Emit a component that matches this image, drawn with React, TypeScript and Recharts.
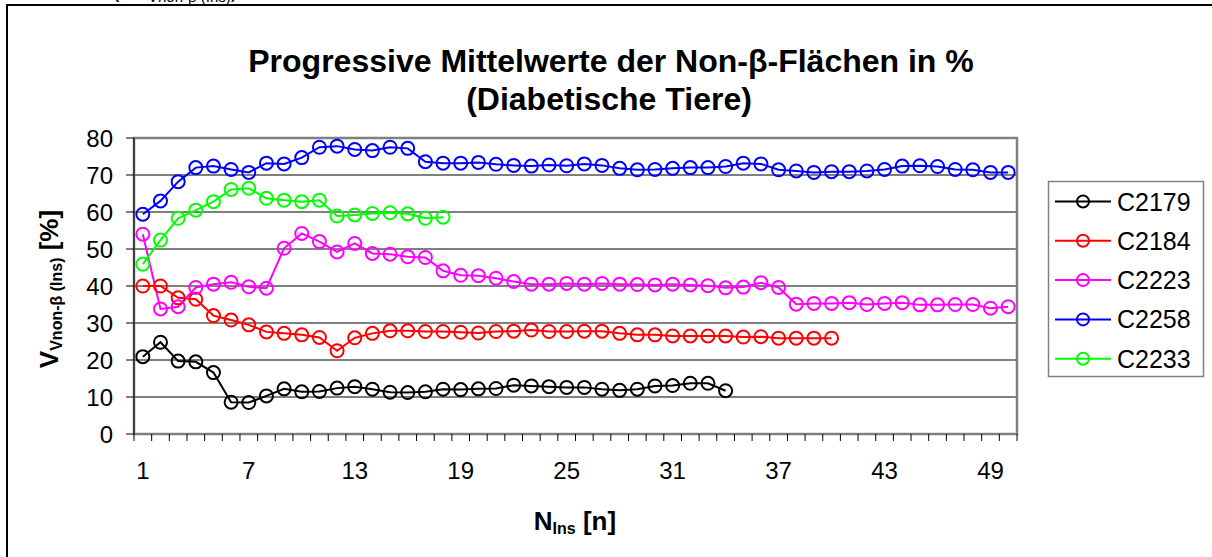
import React from 'react';
import { LineChart, Line, XAxis, YAxis, CartesianGrid, ReferenceArea } from 'recharts';

const FONT = '"Liberation Sans", Arial, sans-serif';

const nValues = [1, 2, 3, 4, 5, 6, 7, 8, 9, 10, 11, 12, 13, 14, 15, 16, 17, 18, 19, 20, 21, 22, 23, 24, 25, 26, 27, 28, 29, 30, 31, 32, 33, 34, 35, 36, 37, 38, 39, 40, 41, 42, 43, 44, 45, 46, 47, 48, 49, 50];
const xTickLabels = [1, 7, 13, 19, 25, 31, 37, 43, 49];
const yTicks = [0, 10, 20, 30, 40, 50, 60, 70, 80];

const c2179 = [20.9, 24.8, 19.7, 19.5, 16.6, 8.6, 8.5, 10.3, 12.2, 11.4, 11.5, 12.4, 12.8, 12.1, 11.3, 11.2, 11.4, 12.1, 12.0, 12.2, 12.3, 13.2, 13.0, 12.8, 12.6, 12.6, 12.1, 11.8, 12.1, 13.0, 13.1, 13.7, 13.7, 11.7];
const c2184 = [40.0, 40.0, 36.8, 36.4, 32.0, 30.8, 29.5, 27.6, 27.2, 26.8, 26.1, 22.5, 26.0, 27.2, 27.9, 27.9, 27.7, 27.7, 27.5, 27.3, 27.7, 27.8, 28.1, 27.7, 27.7, 27.8, 27.8, 27.2, 26.8, 26.8, 26.5, 26.5, 26.5, 26.5, 26.2, 26.3, 25.9, 25.9, 25.9, 25.9];
const c2223 = [54.0, 33.8, 34.4, 39.6, 40.5, 41.0, 39.8, 39.4, 50.2, 54.2, 52.0, 49.2, 51.5, 48.8, 48.6, 47.9, 47.7, 44.1, 42.9, 42.8, 42.1, 41.2, 40.5, 40.5, 40.7, 40.5, 40.7, 40.5, 40.4, 40.3, 40.5, 40.3, 40.1, 39.5, 39.7, 40.9, 39.6, 35.1, 35.3, 35.3, 35.5, 35.0, 35.3, 35.5, 34.9, 34.9, 35.0, 35.0, 34.0, 34.4];
const c2258 = [59.4, 63.0, 68.2, 72.0, 72.4, 71.5, 70.7, 73.2, 73.0, 74.7, 77.5, 77.8, 76.9, 76.6, 77.5, 77.2, 73.6, 73.2, 73.2, 73.4, 72.9, 72.6, 72.4, 72.7, 72.5, 73.0, 72.6, 71.8, 71.4, 71.5, 71.8, 72.0, 72.0, 72.3, 73.2, 73.0, 71.4, 71.1, 70.7, 70.9, 70.9, 71.1, 71.5, 72.4, 72.5, 72.3, 71.5, 71.4, 70.7, 70.7];
const c2233 = [45.9, 52.4, 58.3, 60.5, 62.8, 66.1, 66.4, 63.7, 63.2, 62.8, 63.2, 58.9, 59.2, 59.6, 59.8, 59.5, 58.3, 58.6];

const seriesNames = ['C2179', 'C2184', 'C2223', 'C2258', 'C2233'];
const seriesValues = [c2179, c2184, c2223, c2258, c2233];
const seriesColors = ['#000000', '#FF0000', '#FF00FF', '#0000FF', '#00FF00'];

const xTickBounds = nValues.map((n) => n - 0.5).concat([nValues[nValues.length - 1] + 0.5]);

const data = nValues.map((n, i) => {
  const row: Record<string, number | undefined> = { n };
  seriesNames.forEach((name, s) => {
    row[name] = seriesValues[s][i];
  });
  return row;
});

const EmptyTick = () => <g />;

export default function App() {
  return (
    <div
      style={{
        position: 'fixed',
        left: 0,
        top: 0,
        width: 1212,
        height: 557,
        overflow: 'hidden',
        background: '#fff',
        fontFamily: FONT,
      }}
    >
      <div
        style={{
          position: 'absolute',
          left: 6,
          top: 4,
          width: 1400,
          height: 800,
          border: '2px solid #000',
        }}
      />
      <svg width={400} height={6} style={{ position: 'absolute', left: 0, top: 0 }}>
        <text x={112} y={-3} fontSize={22} fontFamily={FONT} fill="#000">
          (
          <tspan dx={14}>V</tspan>
          <tspan fontSize={15} dy={5}>Vnon-β (Ins)</tspan>
          <tspan dy={-5}>)</tspan>
        </text>
      </svg>
      <LineChart
        width={1212}
        height={557}
        data={data}
        margin={{ top: 138, right: 195, bottom: 65, left: 74 }}
        style={{ position: 'absolute', left: 0, top: 0 }}
      >
        <CartesianGrid
          xAxisId="a"
          vertical={false}
          stroke="#000"
          strokeWidth={1}
          strokeDasharray=""
        />
        <ReferenceArea
          xAxisId="a"
          x1={0.5}
          x2={50.5}
          y1={0}
          y2={80}
          fill="none"
          stroke="#808080"
          strokeWidth={2.5}
        />
        <XAxis
          xAxisId="a"
          dataKey="n"
          type="number"
          domain={[0.5, 50.5]}
          ticks={xTickBounds}
          interval={0}
          tick={EmptyTick}
          tickLine={{ stroke: '#000', strokeWidth: 1 }}
          tickSize={7}
          axisLine={{ stroke: '#808080', strokeWidth: 2 }}
          height={8}
          allowDataOverflow
        />
        <XAxis
          xAxisId="b"
          dataKey="n"
          type="number"
          domain={[0.5, 50.5]}
          ticks={xTickLabels}
          interval={0}
          tickLine={false}
          axisLine={false}
          tickSize={0}
          tickMargin={20}
          tick={{ fontSize: 24, fill: '#000', fontFamily: FONT }}
          height={50}
          allowDataOverflow
        />
        <YAxis
          type="number"
          domain={[0, 80]}
          ticks={yTicks}
          interval={0}
          width={60}
          tickSize={8}
          tickMargin={13}
          tickLine={{ stroke: '#000', strokeWidth: 1 }}
          axisLine={{ stroke: '#404040', strokeWidth: 2 }}
          tick={{ fontSize: 24, fill: '#000', fontFamily: FONT }}
        />
        {seriesNames.map((name, s) => (
          <Line
            key={name}
            xAxisId="a"
            type="linear"
            dataKey={name}
            stroke={seriesColors[s]}
            strokeWidth={2}
            dot={{ r: 6.5, stroke: seriesColors[s], strokeWidth: 2, fill: 'none' }}
            isAnimationActive={false}
            connectNulls={false}
          />
        ))}
      </LineChart>
      <svg
        width={1212}
        height={557}
        style={{ position: 'absolute', left: 0, top: 0, pointerEvents: 'none' }}
      >
        <text x={611} y={72} textAnchor="middle" fontSize={32} fontWeight="bold" fontFamily={FONT} fill="#000">
          Progressive Mittelwerte der Non-β-Flächen in %
        </text>
        <text x={609} y={110} textAnchor="middle" fontSize={32} fontWeight="bold" fontFamily={FONT} fill="#000">
          (Diabetische Tiere)
        </text>
        <text x={575} y={530} textAnchor="middle" fontSize={26} fontWeight="bold" fontFamily={FONT} fill="#000">
          N
          <tspan fontSize={16} dy={4}>Ins</tspan>
          <tspan dy={-4}> [n]</tspan>
        </text>
        <text
          x={0}
          y={0}
          transform="translate(58, 289) rotate(-90)"
          textAnchor="middle"
          fontSize={26}
          fontWeight="bold"
          fontFamily={FONT}
          fill="#000"
        >
          V
          <tspan fontSize={16} dy={4}>Vnon-β (Ins)</tspan>
          <tspan dy={-4}> [%]</tspan>
        </text>
        <g transform="translate(1048, 181)">
          <rect x={0.5} y={0.5} width={155} height={195} fill="#fff" stroke="#808080" strokeWidth={1.5} />
          {seriesNames.map((name, s) => {
            const cy = 20.5 + s * 39.3;
            return (
              <g key={name}>
                <line x1={7} x2={63} y1={cy} y2={cy} stroke={seriesColors[s]} strokeWidth={2} />
                <circle cx={35} cy={cy} r={6} fill="none" stroke={seriesColors[s]} strokeWidth={2} />
                <text x={69} y={cy + 9} fontSize={25} fontFamily={FONT} fill="#000">
                  {name}
                </text>
              </g>
            );
          })}
        </g>
      </svg>
    </div>
  );
}
